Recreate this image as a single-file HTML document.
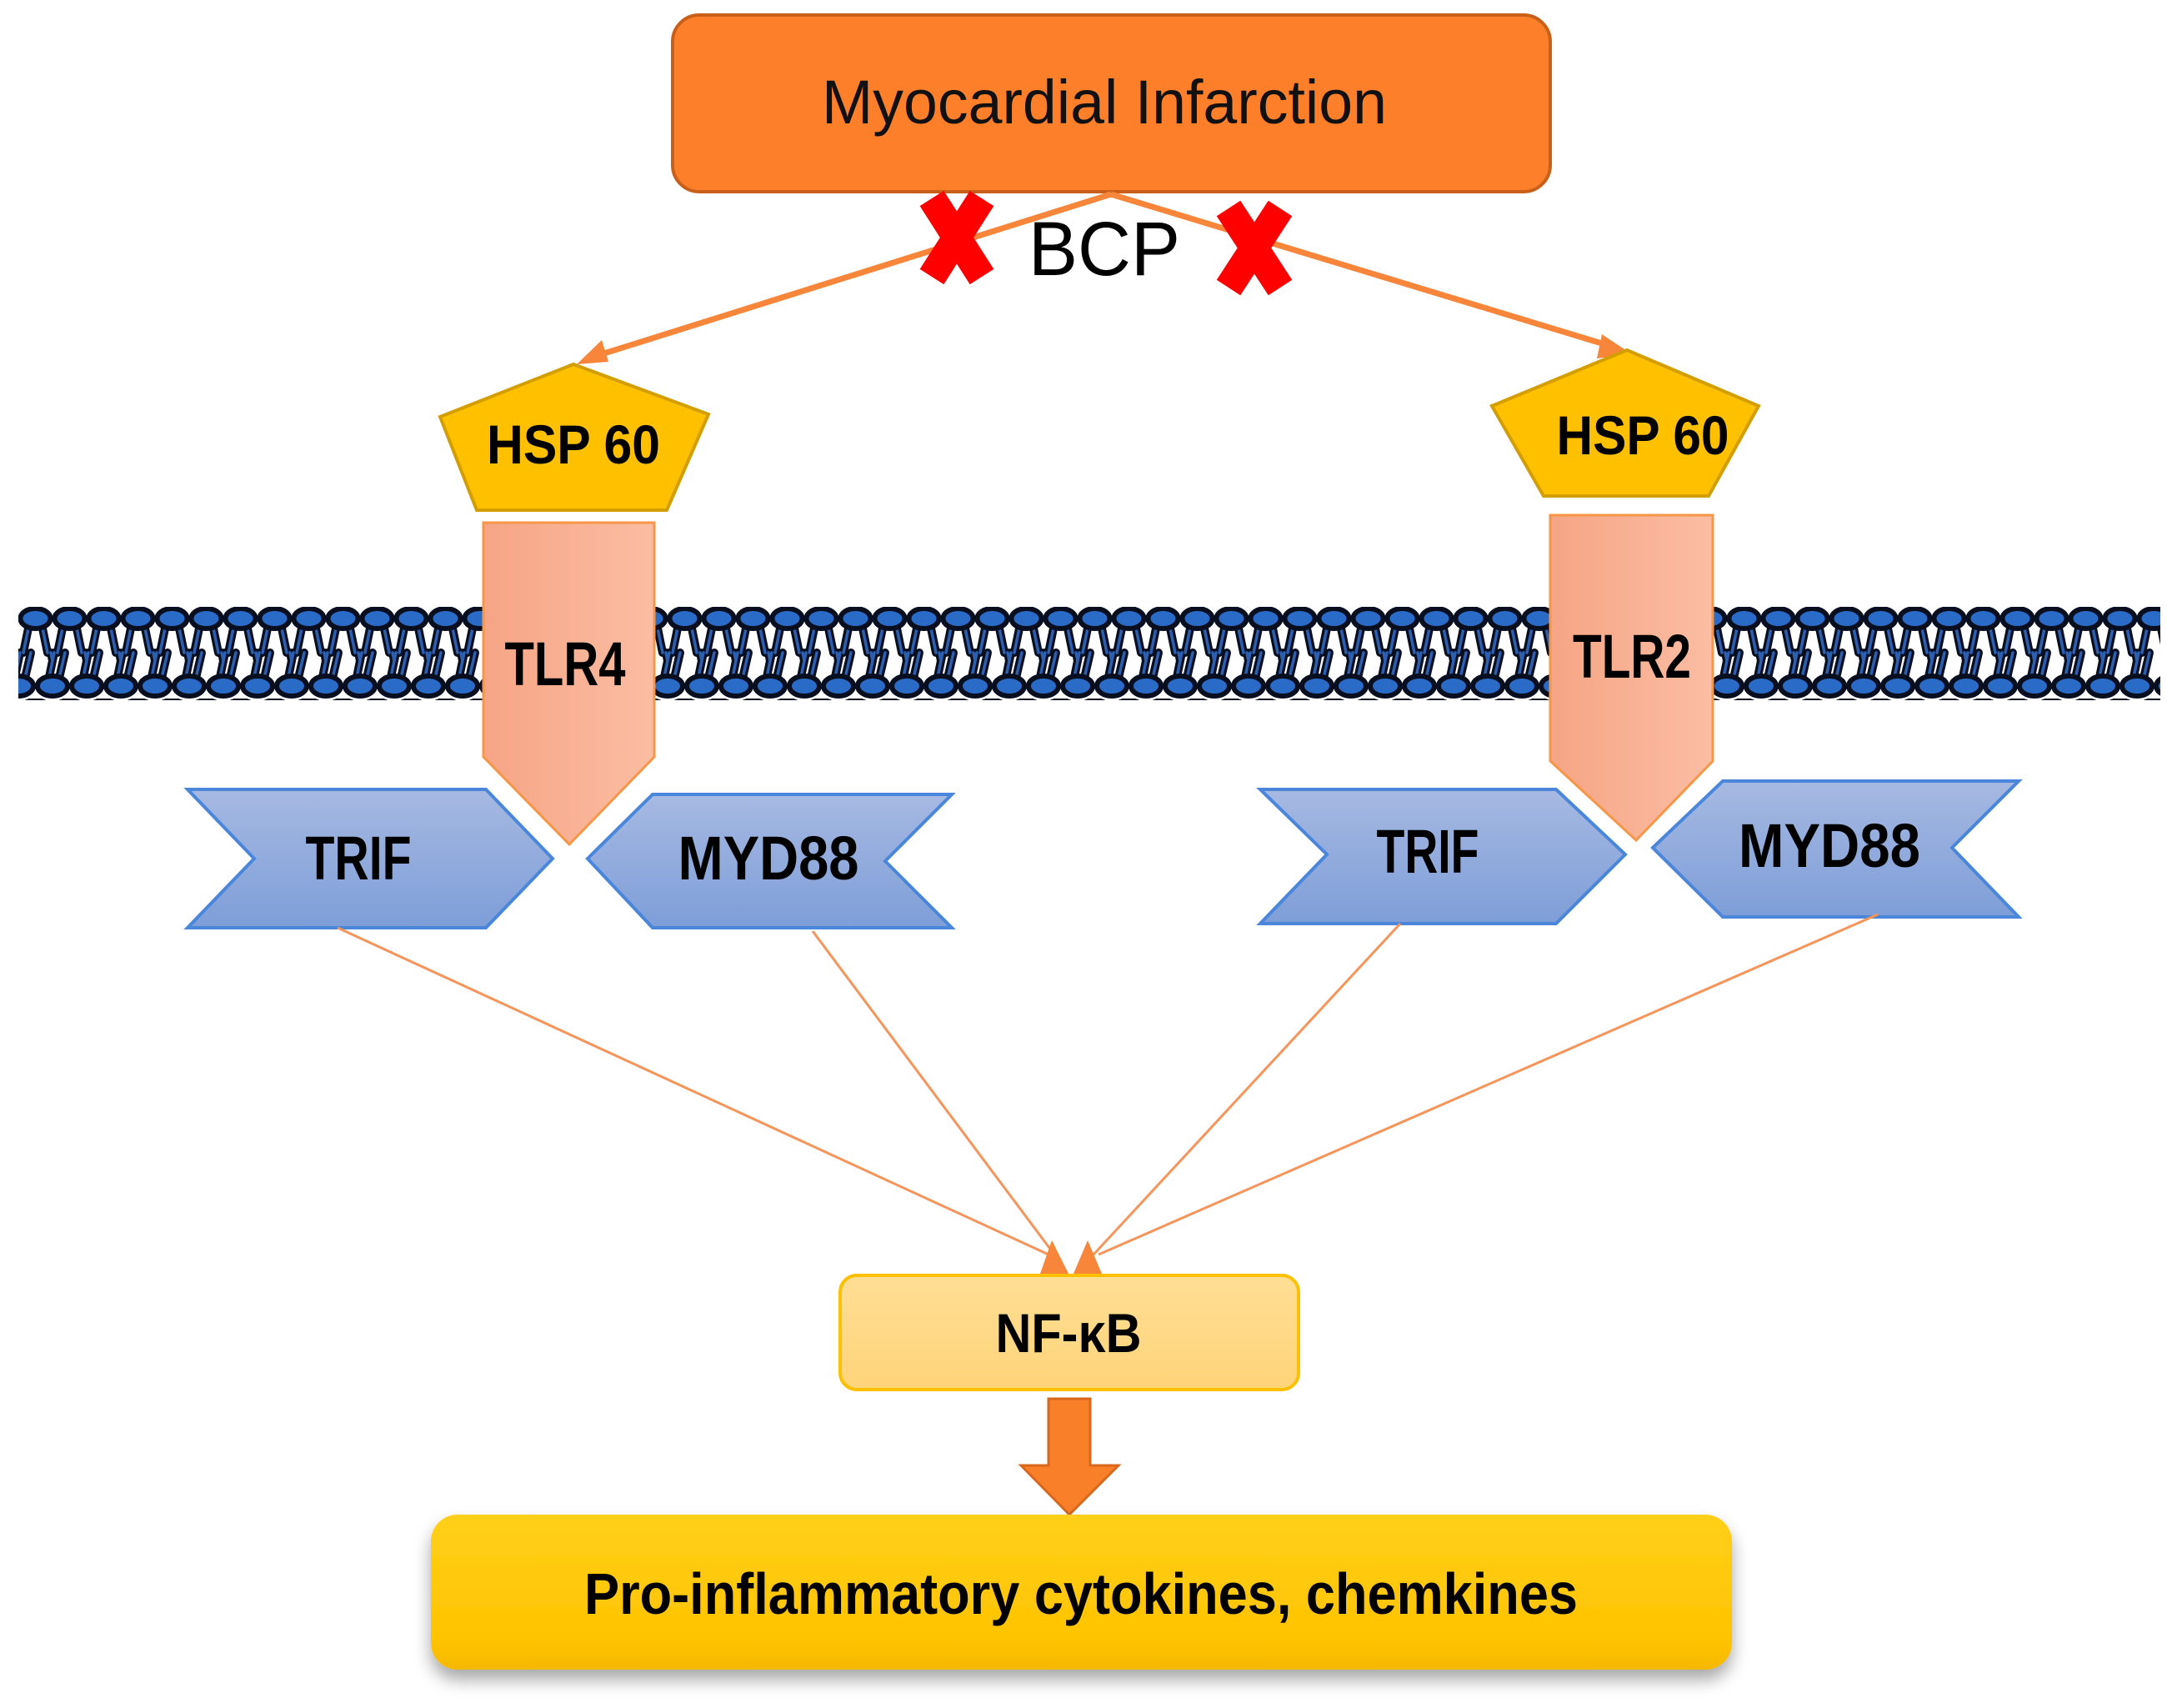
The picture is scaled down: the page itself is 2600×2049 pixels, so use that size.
<!DOCTYPE html>
<html><head><meta charset="utf-8"><style>html,body{margin:0;padding:0;background:#fff}svg{display:block}</style></head>
<body>
<svg width="2600" height="2049" viewBox="0 0 2600 2049" xmlns="http://www.w3.org/2000/svg">
<defs>
<linearGradient id="tlr" x1="0" y1="0" x2="1" y2="0"><stop offset="0" stop-color="#F6A585"/><stop offset="1" stop-color="#FBBDA3"/></linearGradient>
<linearGradient id="chev" x1="0" y1="0" x2="0" y2="1"><stop offset="0" stop-color="#A6B9E2"/><stop offset="1" stop-color="#7E9ED8"/></linearGradient>
<linearGradient id="nf" x1="0" y1="0" x2="0" y2="1"><stop offset="0" stop-color="#FFDE94"/><stop offset="1" stop-color="#FFD47A"/></linearGradient>
<linearGradient id="pro" x1="0" y1="0" x2="0" y2="1"><stop offset="0" stop-color="#FFCF1A"/><stop offset="0.8" stop-color="#FFC400"/><stop offset="1" stop-color="#F5B800"/></linearGradient>
<filter id="sh" x="-5%" y="-20%" width="110%" height="150%"><feDropShadow dx="0" dy="12" stdDeviation="10" flood-color="#000" flood-opacity="0.35"/></filter>
<pattern id="mem" x="22" y="728" width="41" height="110" patternUnits="userSpaceOnUse">
  <g stroke="#0a0f20" stroke-width="10" stroke-linecap="round">
    <line x1="14" y1="16" x2="6" y2="55"/><line x1="27" y1="16" x2="35" y2="55"/>
    <line x1="-6" y1="94" x2="2" y2="55"/><line x1="6" y1="94" x2="15" y2="55"/>
    <line x1="35" y1="94" x2="43" y2="55"/><line x1="47" y1="94" x2="39" y2="55"/>
  </g>
  <g stroke="#2d5fb0" stroke-width="3.5" stroke-linecap="round">
    <line x1="14" y1="16" x2="6" y2="55"/><line x1="27" y1="16" x2="35" y2="55"/>
    <line x1="-6" y1="94" x2="2" y2="55"/><line x1="6" y1="94" x2="15" y2="55"/>
    <line x1="35" y1="94" x2="43" y2="55"/><line x1="47" y1="94" x2="39" y2="55"/>
  </g>
  <ellipse cx="20.5" cy="14" rx="18" ry="12" fill="#2A6BC8" stroke="#0a0f20" stroke-width="6"/>
  <ellipse cx="0" cy="95" rx="18" ry="12" fill="#2A6BC8" stroke="#0a0f20" stroke-width="6"/>
  <ellipse cx="41" cy="95" rx="18" ry="12" fill="#2A6BC8" stroke="#0a0f20" stroke-width="6"/>
</pattern>
</defs>

<rect x="22" y="728" width="2570" height="112" fill="url(#mem)"/>

<rect x="807" y="18" width="1053" height="212" rx="32" fill="#FE7F2A" stroke="#C8601A" stroke-width="4"/>
<text x="1325" y="148" font-family="Liberation Sans Narrow, Liberation Sans, sans-serif" font-size="74" textLength="678" lengthAdjust="spacingAndGlyphs" text-anchor="middle" fill="#111">Myocardial Infarction</text>

<g stroke="#F7853A" stroke-width="7" fill="none">
<line x1="1333" y1="233" x2="712" y2="428"/>
<line x1="1333" y1="233" x2="1935" y2="416"/>
</g>
<polygon points="692,437 722,408 730,434" fill="#F7853A"/>
<polygon points="1958,425 1922,401 1916,430" fill="#F7853A"/>

<g stroke="#FF0000" stroke-width="34" stroke-linecap="butt">
<line x1="1118" y1="238" x2="1178" y2="332"/><line x1="1178" y1="238" x2="1118" y2="332"/>
<line x1="1474" y1="250" x2="1536" y2="345"/><line x1="1536" y1="250" x2="1474" y2="345"/>
</g>
<text x="1325" y="330" font-family="Liberation Sans, sans-serif" font-size="92" textLength="182" lengthAdjust="spacingAndGlyphs" text-anchor="middle" fill="#000">BCP</text>

<polygon points="688,437 850,497 800,612 572,612 528,500" fill="#FFC000" stroke="#D39E00" stroke-width="4"/>
<text x="688" y="556" font-family="Liberation Sans, sans-serif" font-weight="bold" font-size="66" textLength="208" lengthAdjust="spacingAndGlyphs" text-anchor="middle" fill="#000">HSP 60</text>
<polygon points="1952,420 2110,487 2050,595 1852,595 1790,487" fill="#FFC000" stroke="#D39E00" stroke-width="4"/>
<text x="1971" y="545" font-family="Liberation Sans, sans-serif" font-weight="bold" font-size="66" textLength="207" lengthAdjust="spacingAndGlyphs" text-anchor="middle" fill="#000">HSP 60</text>

<polygon points="580,627 785,627 785,908 683,1013 580,908" fill="url(#tlr)" stroke="#F79646" stroke-width="3"/>
<text x="678" y="822" font-family="Liberation Sans Narrow, Liberation Sans, sans-serif" font-weight="bold" font-size="74" textLength="145" lengthAdjust="spacingAndGlyphs" text-anchor="middle" fill="#000">TLR4</text>
<polygon points="1860,618 2055,618 2055,913 1963,1008 1860,913" fill="url(#tlr)" stroke="#F79646" stroke-width="3"/>
<text x="1958" y="813" font-family="Liberation Sans Narrow, Liberation Sans, sans-serif" font-weight="bold" font-size="74" textLength="142" lengthAdjust="spacingAndGlyphs" text-anchor="middle" fill="#000">TLR2</text>

<g fill="url(#chev)" stroke="#4A86DA" stroke-width="4">
<polygon points="225,947 583,947 663,1030 583,1113 225,1113 305,1030"/>
<polygon points="705,1030 783,953 1142,953 1062,1033 1142,1113 783,1113"/>
<polygon points="1512,947 1867,947 1950,1025 1867,1108 1512,1108 1592,1025"/>
<polygon points="1983,1017 2067,937 2422,937 2342,1017 2422,1100 2067,1100"/>
</g>
<g font-family="Liberation Sans Narrow, Liberation Sans, sans-serif" font-weight="bold" font-size="74" text-anchor="middle" fill="#000">
<text x="430" y="1055" textLength="127" lengthAdjust="spacingAndGlyphs">TRIF</text>
<text x="922" y="1055" textLength="217" lengthAdjust="spacingAndGlyphs">MYD88</text>
<text x="1713" y="1047" textLength="123" lengthAdjust="spacingAndGlyphs">TRIF</text>
<text x="2195" y="1040" textLength="218" lengthAdjust="spacingAndGlyphs">MYD88</text>
</g>

<g stroke="#F7945A" stroke-width="3" fill="none">
<line x1="405" y1="1113" x2="1258" y2="1505"/>
<line x1="975" y1="1117" x2="1265" y2="1505"/>
<line x1="1680" y1="1108" x2="1312" y2="1505"/>
<line x1="2253" y1="1097" x2="1318" y2="1505"/>
</g>
<polygon points="1248,1528 1262,1488 1282,1528" fill="#F7853A"/>
<polygon points="1288,1528 1305,1488 1322,1528" fill="#F7853A"/>

<rect x="1008" y="1530" width="550" height="137" rx="20" fill="url(#nf)" stroke="#FFC000" stroke-width="4"/>
<text x="1282" y="1622" font-family="Liberation Sans Narrow, Liberation Sans, sans-serif" font-weight="bold" font-size="66" textLength="175" lengthAdjust="spacingAndGlyphs" text-anchor="middle" fill="#000">NF-κB</text>

<polygon points="1258,1678 1308,1678 1308,1758 1342,1758 1283,1817 1225,1758 1258,1758" fill="#F97F28" stroke="#D9671C" stroke-width="3"/>

<rect x="517" y="1817" width="1561" height="186" rx="32" fill="url(#pro)" filter="url(#sh)"/>
<text x="1297" y="1936" font-family="Liberation Sans Narrow, Liberation Sans, sans-serif" font-weight="bold" font-size="70" textLength="1192" lengthAdjust="spacingAndGlyphs" text-anchor="middle" fill="#000">Pro-inflammatory cytokines, chemkines</text>
</svg>
</body></html>
